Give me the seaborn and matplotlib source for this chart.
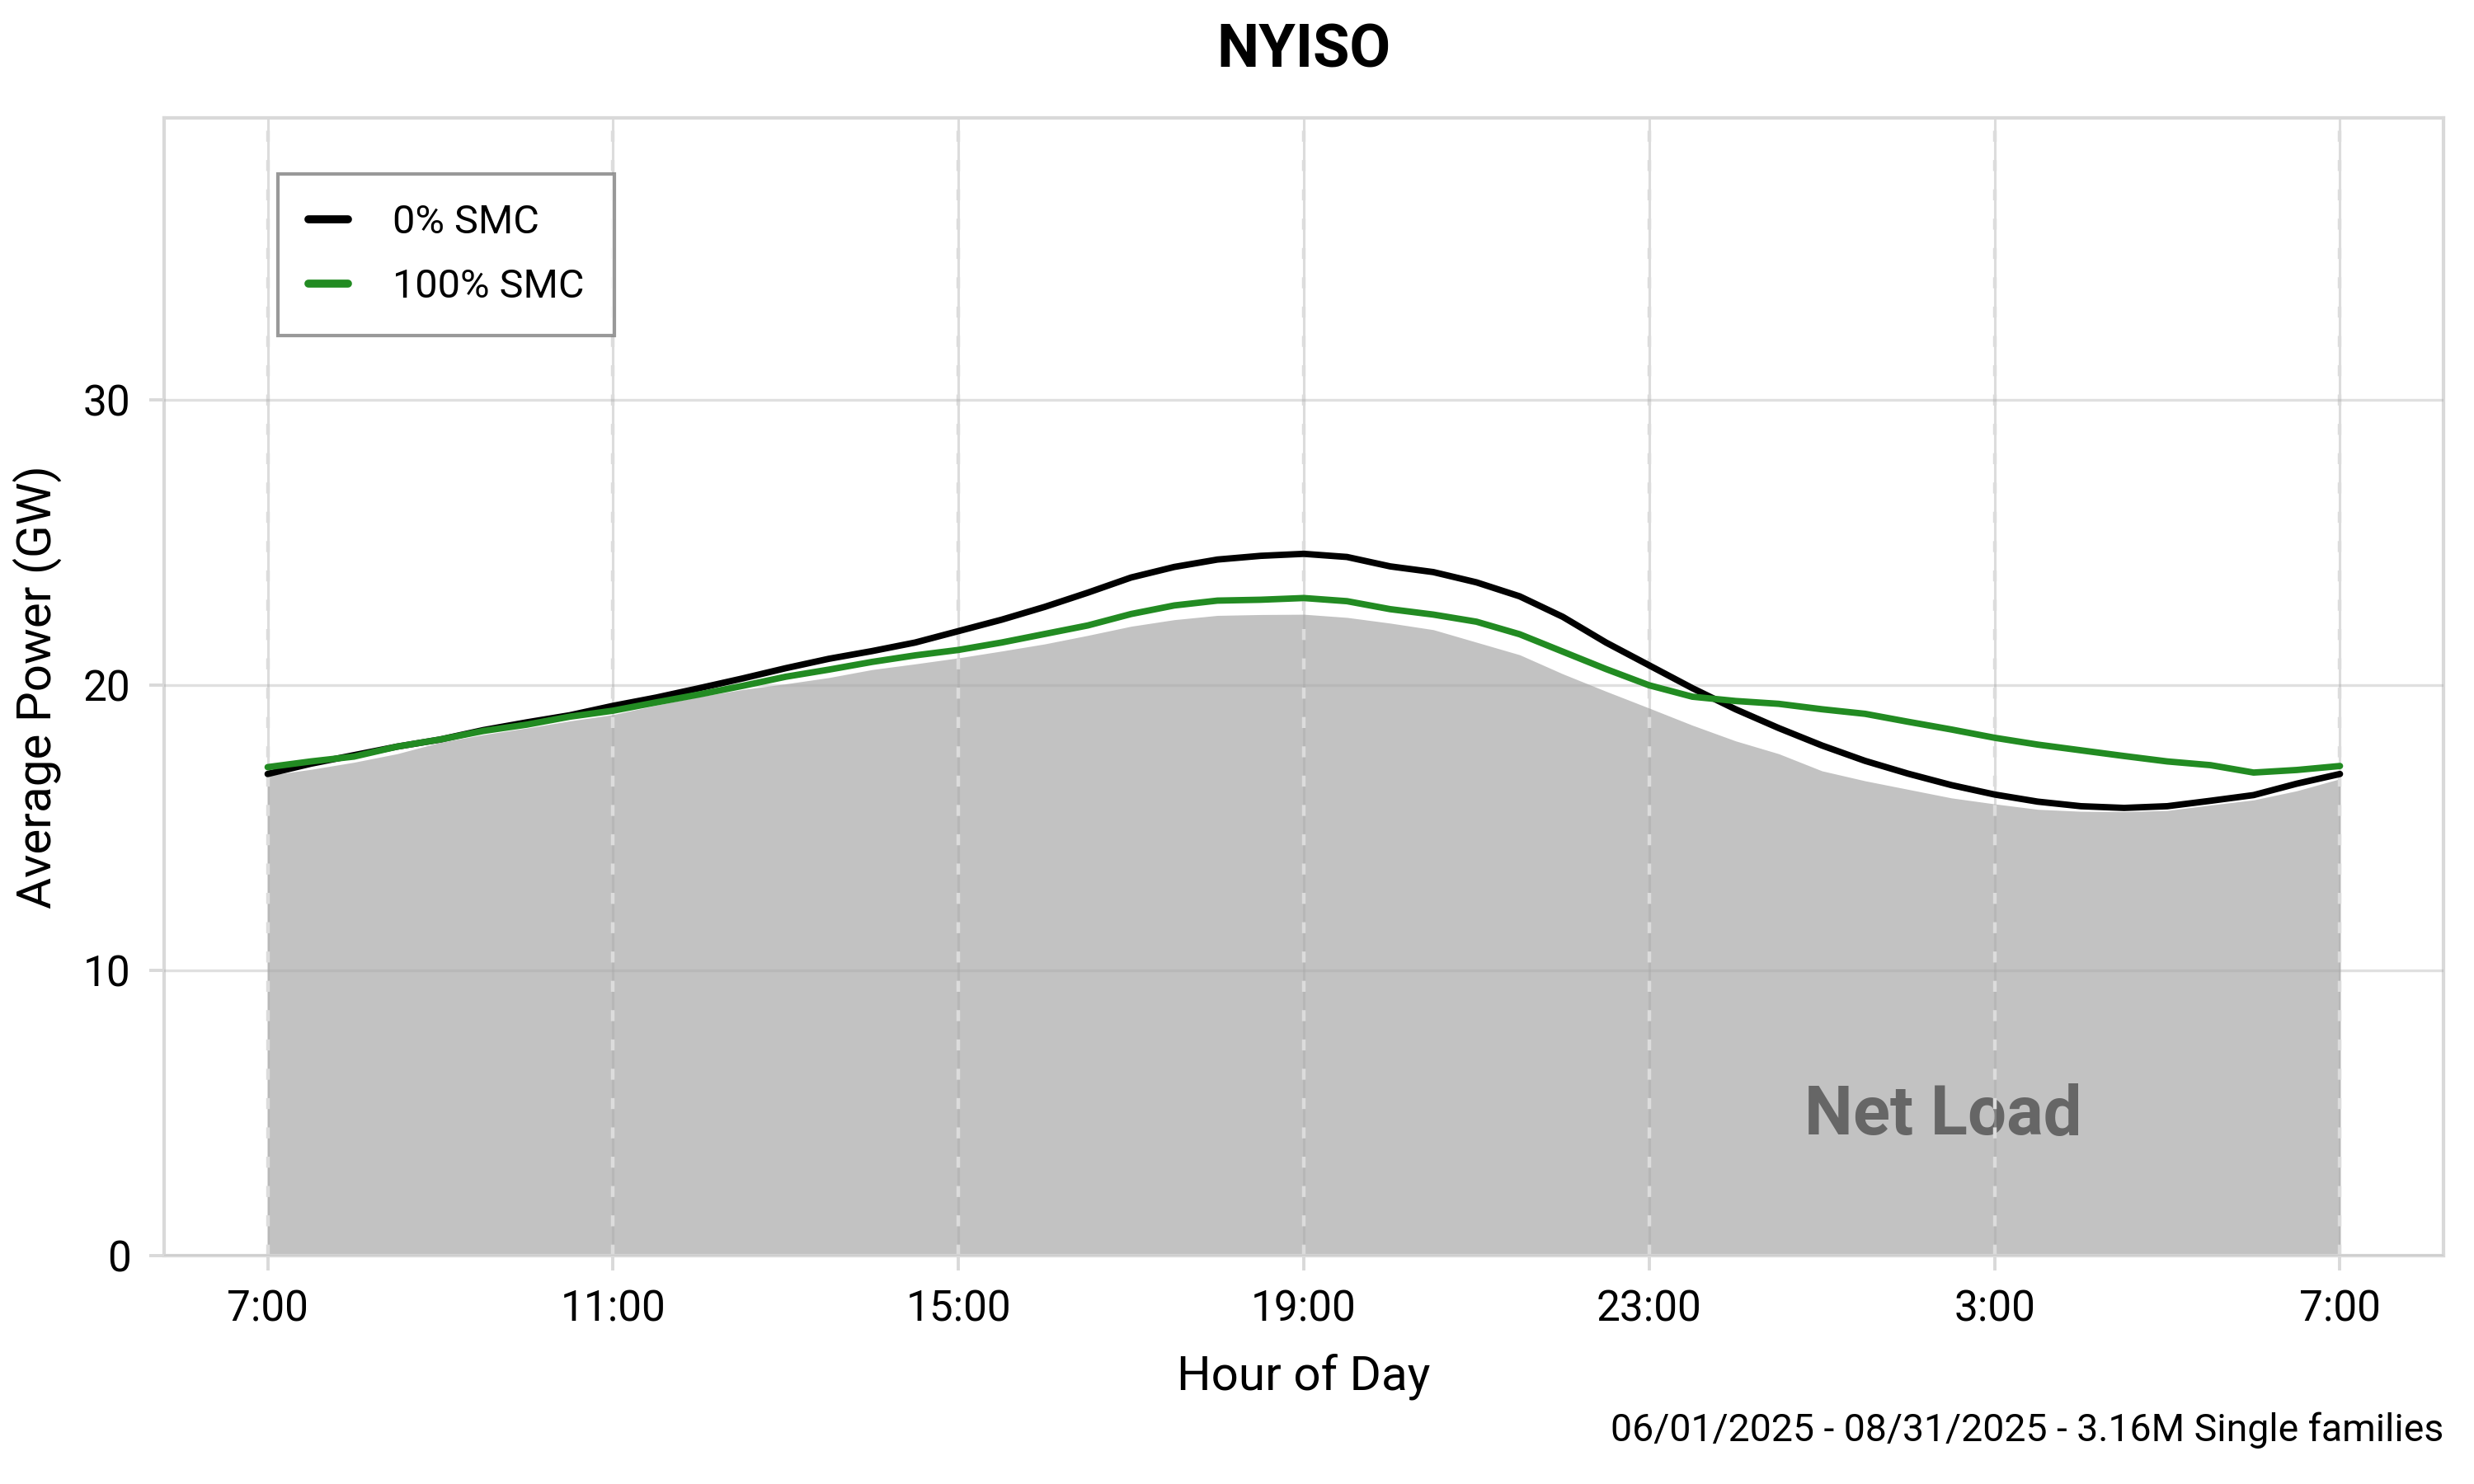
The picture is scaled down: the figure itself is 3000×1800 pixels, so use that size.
import numpy as np
import pandas as pd
import seaborn as sns
import matplotlib.pyplot as plt

# half-hour steps starting at 7:00
hours = np.arange(0, 24.5, 0.5)

smc_0 = [16.89, 17.25, 17.55, 17.85, 18.1, 18.43, 18.7, 18.95, 19.28, 19.57,
         19.9, 20.24, 20.6, 20.93, 21.2, 21.5, 21.9, 22.3, 22.75, 23.25,
         23.78, 24.15, 24.41, 24.54, 24.61, 24.5, 24.17, 23.97, 23.61, 23.12,
         22.4, 21.5, 20.7, 19.9, 19.16, 18.5, 17.89, 17.35, 16.9, 16.5,
         16.17, 15.92, 15.76, 15.7, 15.76, 15.95, 16.15, 16.55, 16.89]

smc_100 = [17.13, 17.33, 17.5, 17.85, 18.1, 18.4, 18.62, 18.9, 19.11, 19.4,
           19.68, 19.98, 20.3, 20.55, 20.82, 21.05, 21.24, 21.5, 21.8, 22.1,
           22.5, 22.8, 22.97, 23.0, 23.06, 22.95, 22.67, 22.48, 22.23, 21.79,
           21.18, 20.57, 20.0, 19.6, 19.45, 19.35, 19.16, 19.0, 18.72, 18.45,
           18.16, 17.92, 17.72, 17.52, 17.33, 17.2, 16.94, 17.03, 17.17]

net_load = [16.84, 17.05, 17.3, 17.6, 18.0, 18.27, 18.5, 18.75, 18.97, 19.3,
            19.6, 19.85, 20.05, 20.27, 20.55, 20.75, 20.96, 21.2, 21.45, 21.75,
            22.07, 22.3, 22.45, 22.48, 22.49, 22.38, 22.18, 21.95, 21.51, 21.07,
            20.4, 19.79, 19.2, 18.6, 18.05, 17.6, 17.0, 16.65, 16.35, 16.05,
            15.84, 15.65, 15.58, 15.57, 15.61, 15.8, 15.98, 16.3, 16.72]

tick_pos = [0, 4, 8, 12, 16, 20, 24]
tick_labels = ["7:00", "11:00", "15:00", "19:00", "23:00", "3:00", "7:00"]

df = pd.DataFrame({
    "hour": np.concatenate([hours, hours]),
    "power": smc_0 + smc_100,
    "scenario": ["0% SMC"] * len(hours) + ["100% SMC"] * len(hours),
})

sns.set_theme(style="whitegrid")
plt.rcParams["font.family"] = ["Roboto", "DejaVu Sans"]
plt.rcParams["text.color"] = "black"
plt.rcParams["axes.labelcolor"] = "black"

fig, ax = plt.subplots(figsize=(15, 9), dpi=200)
fig.subplots_adjust(left=0.0663, right=0.9877, top=0.9206, bottom=0.1539)

ax.fill_between(hours, 0, net_load, color="#c2c2c2", linewidth=0, zorder=1)
sns.lineplot(data=df, x="hour", y="power", hue="scenario",
             palette={"0% SMC": "black", "100% SMC": "#228b22"},
             linewidth=2.8, ax=ax, zorder=3)

ax.text(19.4, 4.9, "Net Load", fontsize=30, fontweight="bold",
        color="#666666", ha="center", va="center", zorder=2)

# grid drawn over the fill
ax.set_axisbelow(False)
ax.grid(axis="y", color="#a8a8a8", alpha=0.35, linewidth=1.2, zorder=2.5)
ax.grid(axis="x", visible=False)
for p in tick_pos:
    ax.axvline(p, color="#a8a8a8", alpha=0.4, linewidth=1.1, zorder=2.5)
    ax.axvline(p, color="#dcdcdc", linewidth=1.6, linestyle=(0, (3, 5)), zorder=2.5)

ax.set_xlim(-1.2, 25.2)
ax.set_ylim(0, 39.9)
ax.set_xticks(tick_pos)
ax.set_xticklabels(tick_labels)
ax.set_yticks([0, 10, 20, 30])
ax.tick_params(axis="both", labelsize=18.5, labelcolor="black", length=6.5,
               width=1.4, color="#d9d9d9", pad=8, bottom=True, left=True)

for s in ax.spines.values():
    s.set_color("#d9d9d9")
    s.set_linewidth(1.5)

ax.set_xlabel("Hour of Day", fontsize=21, labelpad=10)
ax.set_ylabel("Average Power (GW)", fontsize=21, labelpad=14)
ax.yaxis.set_label_coords(-0.045, 0.5)
ax.set_title("NYISO", fontsize=26, fontweight="bold", pad=22, color="black")

leg = ax.legend(loc="upper left", bbox_to_anchor=(0.05, 0.951), fontsize=17.5,
                frameon=True, fancybox=False, edgecolor="#808080",
                handlelength=1.0, handletextpad=1.1, borderpad=0.75,
                borderaxespad=0, labelspacing=0.65, title=None)
leg.get_frame().set_linewidth(1.5)
for line in leg.get_lines():
    line.set_linewidth(3.5)

fig.text(0.9877, 0.024, "06/01/2025 - 08/31/2025 - 3.16M Single families",
         fontsize=16.7, ha="right", va="bottom")

fig.savefig("out.png", dpi=200)
